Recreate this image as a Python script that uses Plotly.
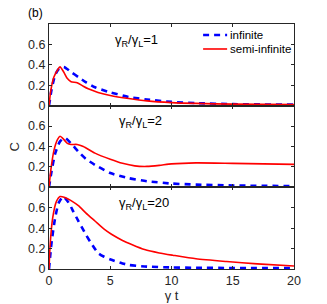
import plotly.graph_objects as go

# ---- data ----
t_inf1 = [0, 0.2, 0.5, 0.8, 1.2, 1.8, 2.4, 3.0, 3.75, 5, 6.5, 8, 10, 12, 15, 20]
c_inf1 = [0, 0.15, 0.30, 0.36, 0.38, 0.33, 0.28, 0.23, 0.18, 0.13, 0.085, 0.06, 0.037, 0.025, 0.015, 0.01]
t_semi1 = [0, 0.15, 0.4, 0.7, 0.9, 1.2, 1.5, 1.8, 2.3, 2.8, 3.2, 4, 5, 6.5, 8, 10, 12, 15, 20]
c_semi1 = [0, 0.15, 0.28, 0.35, 0.38, 0.33, 0.265, 0.235, 0.225, 0.19, 0.165, 0.13, 0.10, 0.07, 0.047, 0.03, 0.022, 0.015, 0.01]

t_inf2 = [0, 0.2, 0.5, 0.9, 1.3, 1.8, 2.4, 3.0, 3.75, 5, 6.5, 8, 10, 12, 15, 20]
c_inf2 = [0, 0.15, 0.33, 0.45, 0.485, 0.43, 0.35, 0.28, 0.22, 0.14, 0.09, 0.06, 0.037, 0.027, 0.018, 0.012]
t_semi2 = [0, 0.15, 0.4, 0.7, 0.9, 1.2, 1.5, 1.8, 2.3, 2.8, 3.75, 5, 6, 7, 8, 9, 10, 12, 15, 20]
c_semi2 = [0, 0.17, 0.36, 0.47, 0.50, 0.47, 0.43, 0.42, 0.42, 0.40, 0.335, 0.275, 0.235, 0.21, 0.205, 0.215, 0.23, 0.24, 0.235, 0.225]

t_inf3 = [0, 0.2, 0.5, 0.8, 1.17, 1.6, 2.0, 2.4, 3.0, 3.35, 4.0, 4.5, 5.1, 6.0, 6.5, 7.8, 10, 12, 15, 20]
c_inf3 = [0, 0.25, 0.50, 0.65, 0.71, 0.65, 0.56, 0.47, 0.34, 0.27, 0.157, 0.12, 0.09, 0.055, 0.04, 0.025, 0.015, 0.012, 0.01, 0.01]
t_semi3 = [0, 0.1, 0.3, 0.6, 0.9, 1.3, 1.8, 2.4, 3.0, 3.75, 4.5, 5.1, 6.0, 6.75, 7.8, 9.0, 10.1, 12, 14.5, 17, 20]
c_semi3 = [0, 0.25, 0.50, 0.66, 0.71, 0.70, 0.67, 0.62, 0.55, 0.47, 0.39, 0.34, 0.28, 0.24, 0.19, 0.157, 0.135, 0.10, 0.073, 0.05, 0.03]

ratio_labels = ["γ<sub>R</sub>/γ<sub>L</sub>=1", "γ<sub>R</sub>/γ<sub>L</sub>=2", "γ<sub>R</sub>/γ<sub>L</sub>=20"]
series_names = ["infinite", "semi-infinite"]
x_ticks = [0, 5, 10, 15, 20]
y_ticks = [0, 0.2, 0.4, 0.6]

panels = [(t_inf1, c_inf1, t_semi1, c_semi1),
          (t_inf2, c_inf2, t_semi2, c_semi2),
          (t_inf3, c_inf3, t_semi3, c_semi3)]

FONT = "Liberation Sans, Arial, sans-serif"
AX = "#262626"
BLUE_LINE = dict(color="#0000ff", width=2.6, dash="6px,5px")
RED_LINE = dict(color="#ff0000", width=1.6)

fig = go.Figure()
domains = [[2/3, 1.0], [1/3, 2/3], [0.0, 1/3]]
label_x = [5.2, 5.57, 5.57]
for i, (ti, ci, ts, cs) in enumerate(panels):
    k = "" if i == 0 else str(i + 1)
    fig.add_trace(go.Scatter(x=ti, y=ci, mode="lines", name=series_names[0],
                             line=dict(BLUE_LINE, shape="spline", smoothing=0.6),
                             xaxis="x" + k, yaxis="y" + k, showlegend=False))
    fig.add_trace(go.Scatter(x=ts, y=cs, mode="lines", name=series_names[1],
                             line=dict(RED_LINE, shape="spline", smoothing=0.6),
                             xaxis="x" + k, yaxis="y" + k, showlegend=False))
    axcommon = dict(showline=True, linecolor=AX, linewidth=1, mirror="ticks", ticks="inside",
                    ticklen=3, tickcolor=AX, showgrid=False, zeroline=False, automargin=False,
                    tickfont=dict(family=FONT, size=12.5, color=AX))
    fig.layout["xaxis" + k] = dict(axcommon, range=[0, 20], tickvals=x_ticks,
                                   showticklabels=(i == 2), anchor="y" + k,
                                   **({} if i == 0 else {"matches": "x"}))
    fig.layout["yaxis" + k] = dict(axcommon, range=[0, 0.8], tickvals=y_ticks,
                                   domain=domains[i], anchor="x" + k)
    fig.add_annotation(text=ratio_labels[i], xref="x" + k + " domain", yref="y" + k + " domain",
                       x=label_x[i] / 20, y=0.93, xanchor="left", yanchor="top", align="left",
                       showarrow=False, font=dict(family=FONT, size=13, color="#000"))

fig.layout.xaxis3.title = dict(text="γ t", font=dict(family=FONT, size=13, color=AX), standoff=0)

# y-axis label "C" (rotated, left of the middle panel)
fig.add_annotation(text="C", xref="paper", yref="paper", x=-0.139, y=0.5, textangle=-90,
                   xanchor="center", yanchor="middle", showarrow=False,
                   font=dict(family=FONT, size=13, color=AX))

# manual legend (top panel, upper right)
leg_y = [0.955, 0.898]
leg_lines = [BLUE_LINE, RED_LINE]
for name, yy, ln in zip(series_names, leg_y, leg_lines):
    fig.add_shape(type="line", xref="paper", yref="paper", x0=0.629, x1=0.727, y0=yy, y1=yy,
                  line=ln)
    fig.add_annotation(text=name, xref="paper", yref="paper", x=0.731, y=yy,
                       xanchor="left", yanchor="middle", showarrow=False,
                       font=dict(family=FONT, size=11.5, color="#000"))

fig.add_annotation(text="(b)", xref="paper", yref="paper", x=-0.016, y=1.01,
                   xanchor="right", yanchor="bottom", showarrow=False,
                   font=dict(family=FONT, size=12, color="#000"))

fig.update_layout(
    width=327, height=304,
    margin=dict(l=49, r=33, t=24, b=35),
    plot_bgcolor="white", paper_bgcolor="white",
    showlegend=False,
    font=dict(family=FONT),
)

fig.write_html("out.html", post_script="document.body.style.margin='0';",
               config={"displayModeBar": False})
